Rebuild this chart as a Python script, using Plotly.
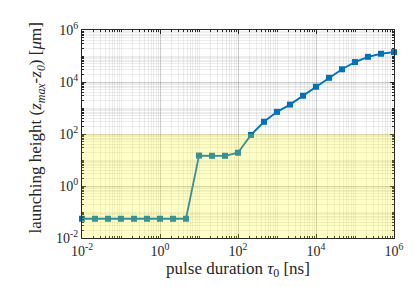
import numpy as np
import plotly.graph_objects as go

tau_ns = [0.01, 0.0215, 0.0464, 0.1, 0.215, 0.464, 1, 2.15, 4.64,
          10, 21.5, 46.4, 100, 215, 464, 1000, 2150, 4640,
          10000, 21500, 46400, 100000, 215000, 464000, 1000000]
height_um = [0.055, 0.055, 0.055, 0.055, 0.055, 0.055, 0.055, 0.055, 0.055,
             14.8, 14.5, 14.5, 19, 92, 295, 710, 1350, 2960,
             6560, 14500, 30800, 58500, 93000, 122000, 141000]
band_top = 100
major_ticks = [1e-2, 1e0, 1e2, 1e4, 1e6]
major_text = ["10<sup>-2</sup>", "10<sup>0</sup>", "10<sup>2</sup>", "10<sup>4</sup>", "10<sup>6</sup>"]
y_title = "launching height (<i>z</i><sub><i>max</i></sub>-<i>z</i><sub><i>0</i></sub>) [<i>μ</i>m]"
x_title = "pulse duration <i>τ</i><sub>0</sub> [ns]"

minor_vals = [m * 10.0 ** e for e in range(-2, 6) for m in range(1, 10)] + [1e6]

fig = go.Figure()
fig.add_trace(go.Scatter(
    x=tau_ns, y=height_um, mode="lines+markers",
    line=dict(color="#0072BD", width=1.8),
    marker=dict(symbol="square", size=6, color="#0072BD"),
    cliponaxis=False, showlegend=False))

fig.add_shape(type="rect", xref="x domain", yref="y", x0=0, x1=1, y0=0.01, y1=band_top,
              fillcolor="yellow", opacity=0.22, line=dict(width=0), layer="above")

axis_common = dict(
    type="log", showline=True, linecolor="#262626", linewidth=1, mirror="ticks",
    ticks="inside", ticklen=4, tickcolor="#262626",
    showgrid=True, gridcolor="rgba(0,0,0,0.13)", gridwidth=1,
    tickfont=dict(family="Liberation Serif", size=14, color="#262626"),
    zeroline=False,
)

minor_common = dict(tickvals=minor_vals, ticks="inside", ticklen=2, tickcolor="#262626",
                    showgrid=True, gridcolor="rgba(0,0,0,0.07)", gridwidth=1)

fig.update_xaxes(**axis_common, range=[-2, 6], tickvals=major_ticks, ticktext=major_text,
                 minor=minor_common,
                 title=dict(text=x_title, standoff=2,
                            font=dict(family="Liberation Serif", size=17, color="#262626")))
fig.update_yaxes(**axis_common, range=[-2, 6], tickvals=major_ticks, ticktext=major_text,
                 minor=minor_common)

fig.add_annotation(text=y_title, textangle=-90, xref="paper", yref="paper",
                   x=-0.145, y=0.53, xanchor="center", yanchor="middle", showarrow=False,
                   font=dict(family="Liberation Serif", size=17, color="#262626"))

fig.update_layout(width=415, height=287, margin=dict(l=74, r=29, t=20, b=57),
                  paper_bgcolor="white", plot_bgcolor="white")
fig.write_html("out.html")
